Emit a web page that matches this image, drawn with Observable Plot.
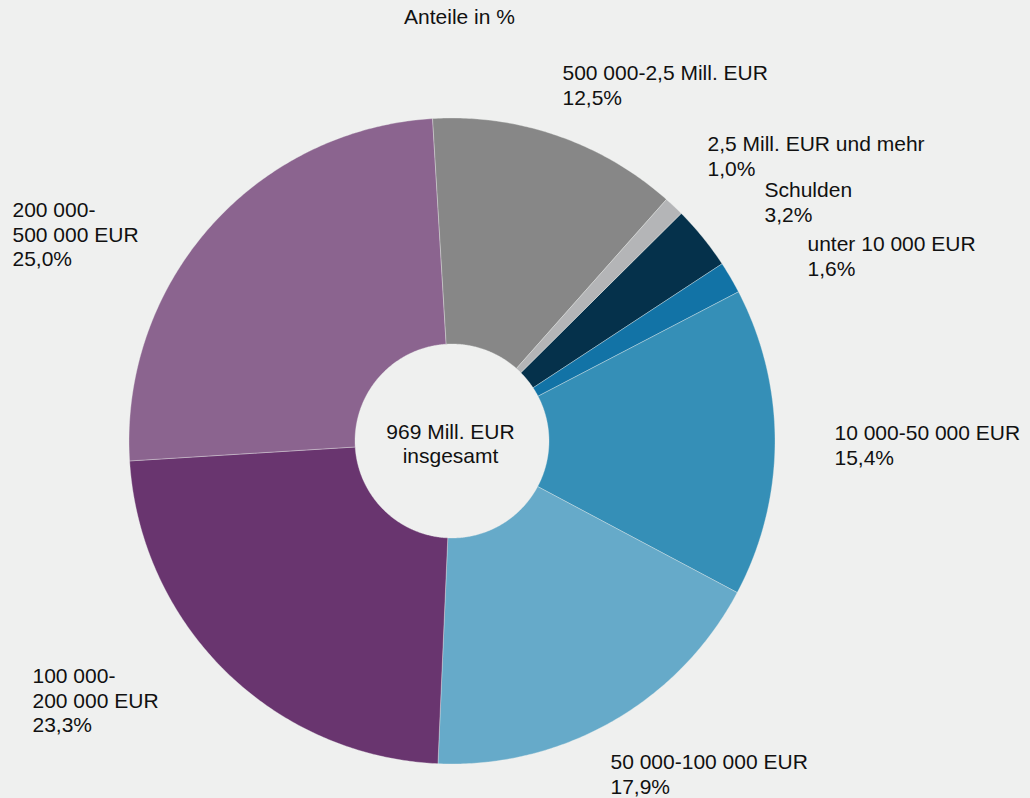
<!DOCTYPE html>
<html>
<head>
<meta charset="utf-8">
<script src="https://cdn.jsdelivr.net/npm/d3@7"></script>
<script src="https://cdn.jsdelivr.net/npm/@observablehq/plot@0.6"></script>
<style>
  html, body { margin: 0; padding: 0; background: #eff0ef; }
  #chart svg { display: block; }
</style>
</head>
<body>
<div id="chart"></div>
<script>
// ---- data ----
const categories = [
  "Schulden",
  "unter 10 000 EUR",
  "10 000-50 000 EUR",
  "50 000-100 000 EUR",
  "100 000-\n200 000 EUR",
  "200 000-\n500 000 EUR",
  "500 000-2,5 Mill. EUR",
  "2,5 Mill. EUR und mehr"
];
const shares = [3.2, 1.6, 15.4, 17.9, 23.3, 25.0, 12.5, 1.0];
const colors = ["#05314b", "#1273a6", "#358fb7", "#66aac9", "#69356f", "#8b648f", "#878787", "#b4b5b7"];
const title = "Anteile in %";
const centerText = "969 Mill. EUR\ninsgesamt";

// ---- layout (pixels) ----
const W = 1030, H = 798;
const cx = 451.5, cy = 440.5, R = 323, r0 = 97;
const startDeg = 45.2;   // clockwise from 12 o'clock, where the first slice begins
const fontSize = 21, lineH = 1.17;
// label anchors: left x, cap-top y
const labelPos = [
  [764, 179], [807, 233], [834, 422], [610, 751],
  [32, 665], [12, 199], [562, 62], [707, 133]
];

// ---- slice polygons derived from shares ----
const total = d3.sum(shares);
const pt = (deg, rad) => {
  const a = deg * Math.PI / 180;
  return [cx + rad * Math.sin(a), cy - rad * Math.cos(a)];
};
const poly = [];
let acc = startDeg;
shares.forEach((v, i) => {
  const a0 = acc, a1 = acc + v / total * 360;
  acc = a1;
  const n = Math.max(2, Math.ceil((a1 - a0) / 0.5));
  const pts = [];
  for (let k = 0; k <= n; k++) pts.push(pt(a0 + (a1 - a0) * k / n, R));
  for (let k = n; k >= 0; k--) pts.push(pt(a0 + (a1 - a0) * k / n, r0));
  pts.push(pts[0]);
  pts.forEach(([x, y]) => poly.push({key: categories[i], x, y}));
});

const fmt = v => d3.format(".1f")(v).replace(".", ",");
const labels = categories.map((c, i) => ({
  text: c + "\n" + fmt(shares[i]) + "%",
  x: labelPos[i][0], y: labelPos[i][1]
}));

const chart = Plot.plot({
  width: W, height: H,
  margin: 0,
  style: {background: "#eff0ef", fontFamily: "'Liberation Sans', Arial, sans-serif"},
  x: {domain: [0, W], range: [0, W], axis: null},
  y: {domain: [0, H], range: [0, H], axis: null},
  color: {domain: categories, range: colors},
  marks: [
    Plot.line(poly, {x: "x", y: "y", z: "key", fill: "key", stroke: "#eff0ef", strokeWidth: 0.35, curve: "linear"}),
    Plot.text(labels, {x: "x", y: "y", text: "text", textAnchor: "start", lineAnchor: "top",
      lineHeight: lineH, fontSize, fill: "#111"}),
    Plot.text([title], {x: () => 459, y: () => 9, text: d => d, lineAnchor: "top", fontSize, fill: "#111"}),
    Plot.text([centerText], {x: () => cx - 1.5, y: () => 422, text: d => d, lineAnchor: "top",
      lineHeight: lineH * 0.97, fontSize, fill: "#111"})
  ]
});
document.getElementById("chart").appendChild(chart);
</script>
</body>
</html>
